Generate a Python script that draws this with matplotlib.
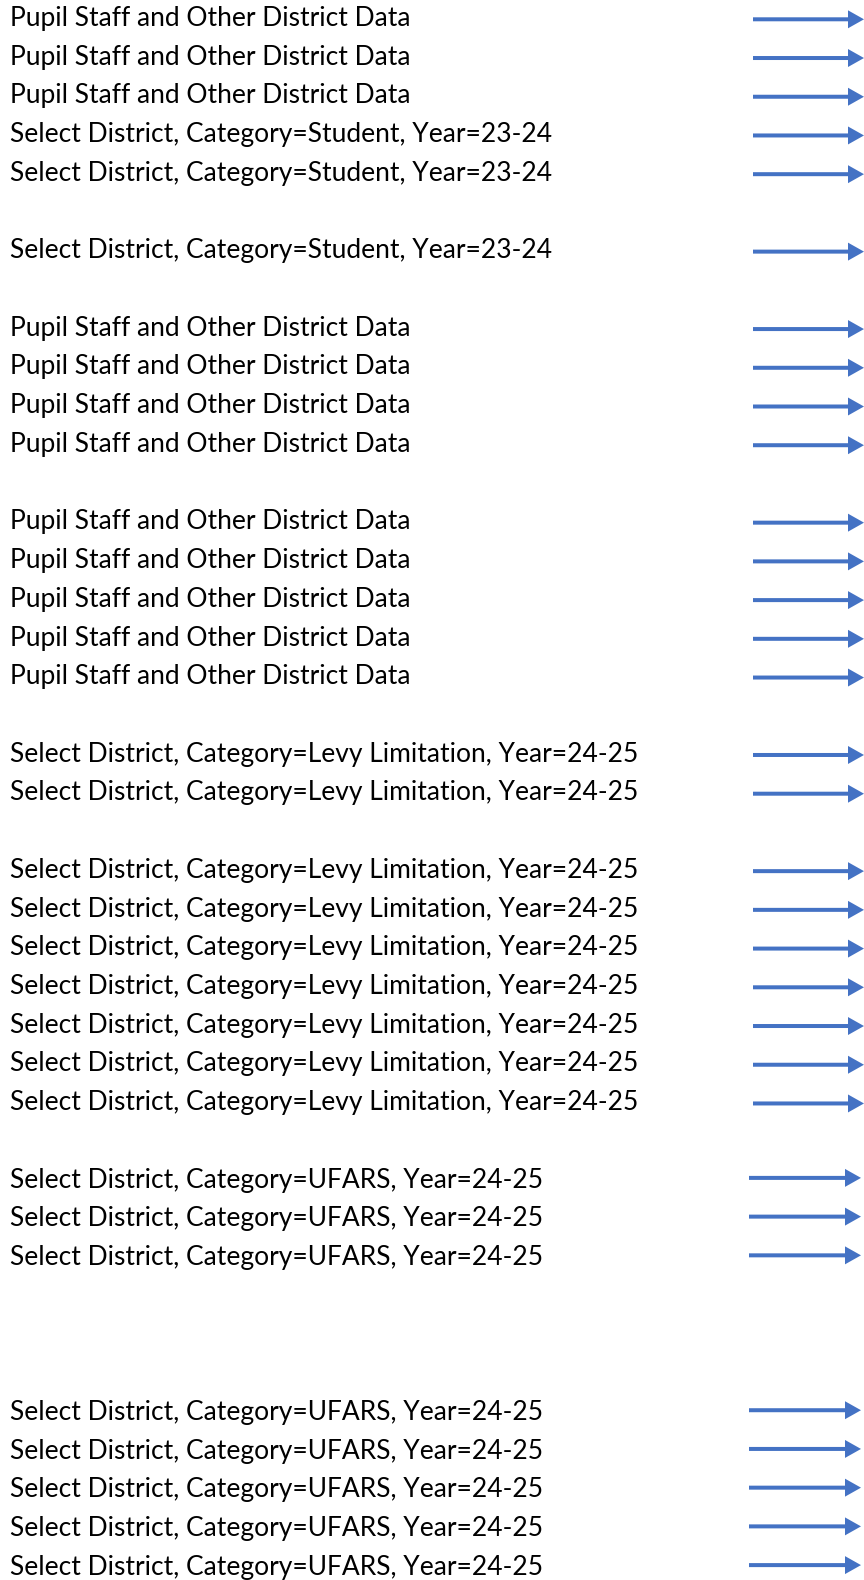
import matplotlib
matplotlib.use("Agg")
import matplotlib.pyplot as plt

# Textos de cada fila, agrupados como en la imagen original
pupil = "Pupil Staff and Other District Data"
student = "Select District, Category=Student, Year=23-24"
levy = "Select District, Category=Levy Limitation, Year=24-25"
ufars = "Select District, Category=UFARS, Year=24-25"

groups = [
    [pupil, pupil, pupil, student, student],
    [student],
    [pupil, pupil, pupil, pupil],
    [pupil, pupil, pupil, pupil, pupil],
    [levy, levy],
    [levy, levy, levy, levy, levy, levy, levy],
    [ufars, ufars, ufars],
    [ufars, ufars, ufars, ufars, ufars],
]
# filas vacías después de cada grupo
gaps_after = [1, 1, 1, 1, 1, 1, 3, 0]

# Estilo
W, H = 864, 1580
pitch = 38.72
first_arrow_y = 19.3
blue = "#4472C4"

fig = plt.figure(figsize=(W / 100, H / 100), dpi=100)
ax = fig.add_axes([0, 0, 1, 1])
ax.set_xlim(0, W)
ax.set_ylim(H, 0)
ax.axis("off")

texts = []
slot = 0
for gi, (rows, gap) in enumerate(zip(groups, gaps_after)):
    is_ufars = rows[0] == ufars
    x0, x1 = (749, 861) if is_ufars else (753, 864)
    dy = -3 if is_ufars else 0
    for label in rows:
        y = first_arrow_y + slot * pitch
        t = ax.text(10, y + 6.7, label, fontsize=16, family="Lato",
                    va="baseline", ha="left", color="black")
        texts.append(t)
        ax.arrow(x0, y + dy, x1 - x0, 0, width=4, head_width=18, head_length=16,
                 length_includes_head=True, color=blue, linewidth=0)
        slot += 1
    slot += gap

# Ajustar el tamaño de letra para que la fila más larga mida lo mismo que en el original
fig.canvas.draw()
r = fig.canvas.get_renderer()
longest = max(texts, key=lambda t: len(t.get_text()))
w = longest.get_window_extent(r).width
for t in texts:
    t.set_fontsize(16 * 629 / w)

fig.savefig("out.png", dpi=100)
